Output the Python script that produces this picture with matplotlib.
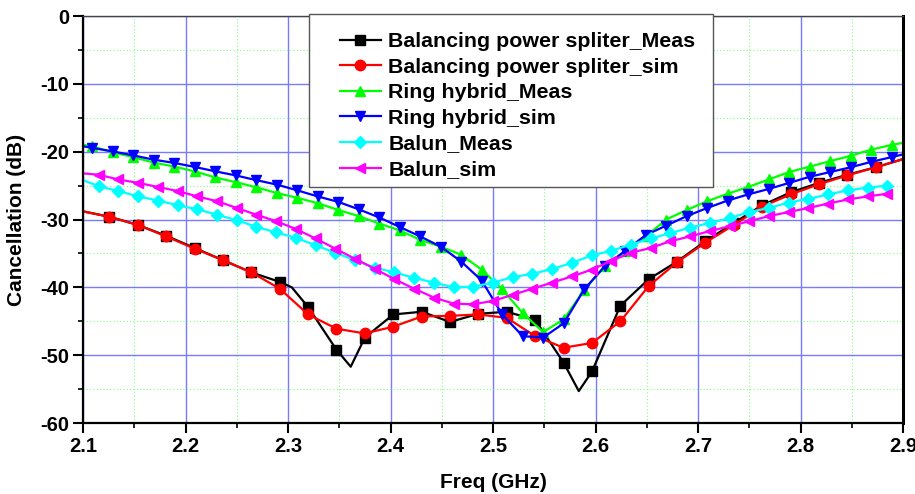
import matplotlib
matplotlib.use("Agg")
import matplotlib.pyplot as plt
from matplotlib.patches import Rectangle
from matplotlib.ticker import MultipleLocator

plt.rcParams['font.family'] = ['Liberation Sans', 'DejaVu Sans']
plt.rcParams['font.weight'] = 'bold'

# ---------------- data ----------------
# Balancing power splitter (marker frequencies, GHz)
bps_freq = [2.1258, 2.1535, 2.1812, 2.2089, 2.2366, 2.2643, 2.2920, 2.3196, 2.3473, 2.3750,
            2.4027, 2.4304, 2.4581, 2.4858, 2.5135, 2.5412, 2.5689, 2.5966, 2.6243, 2.6519,
            2.6796, 2.7073, 2.7350, 2.7627, 2.7904, 2.8181, 2.8458, 2.8735]
bps_meas = [-29.6, -30.8, -32.4, -34.2, -36.0, -37.8, -39.2, -42.9, -49.2, -47.4,
            -44.0, -43.6, -45.1, -43.9, -43.6, -44.8, -51.1, -52.4, -42.7, -38.8,
            -36.2, -33.2, -30.5, -27.9, -26.0, -24.6, -23.4, -22.3]
bps_sim = [-29.6, -30.8, -32.5, -34.3, -36.0, -37.8, -40.2, -44.0, -46.1, -46.8,
           -45.8, -44.3, -44.2, -44.0, -44.5, -47.2, -48.9, -48.2, -45.0, -39.8,
           -36.3, -33.4, -30.8, -28.1, -26.3, -24.8, -23.5, -22.3]
# extra (unmarked) measured points between markers
bps_meas_extra_freq = [2.1, 2.3037, 2.3612, 2.5837, 2.9]
bps_meas_extra_val = [-28.8, -40.0, -51.7, -55.3, -21.1]
bps_sim_end_freq = [2.1, 2.9]
bps_sim_end_val = [-28.8, -21.1]

# Ring hybrid
ring_freq = [2.109, 2.129, 2.149, 2.169, 2.189, 2.209, 2.229, 2.249, 2.269, 2.289,
             2.309, 2.329, 2.349, 2.369, 2.389, 2.409, 2.429, 2.449, 2.469, 2.489,
             2.509, 2.529, 2.549, 2.569, 2.589, 2.609, 2.629, 2.649, 2.669, 2.689,
             2.709, 2.729, 2.749, 2.769, 2.789, 2.809, 2.829, 2.849, 2.869, 2.889]
ring_meas = [-19.2, -20.1, -20.8, -21.6, -22.2, -22.9, -23.8, -24.5, -25.25, -26.1,
             -26.8, -27.6, -28.6, -29.5, -30.6, -31.6, -33.0, -34.0, -35.2, -37.4,
             -40.3, -43.8, -46.6, -44.7, -40.4, -36.9, -34.7, -32.5, -30.0, -28.6,
             -27.3, -26.2, -25.2, -24.1, -23.0, -22.2, -21.4, -20.6, -19.7, -19.0]
ring_sim = [-19.45, -19.96, -20.55, -21.18, -21.66, -22.25, -22.9, -23.5, -24.2, -24.85,
            -25.7, -26.6, -27.4, -28.5, -29.7, -31.1, -32.5, -34.0, -36.2, -39.0,
            -44.0, -47.2, -47.4, -45.3, -40.3, -36.9, -34.6, -32.3, -30.9, -29.5,
            -28.3, -27.2, -26.3, -25.5, -24.6, -23.7, -23.0, -22.3, -21.5, -20.8]
ring_end_freq = [2.1, 2.9]
ring_meas_end = [-19.0, -18.7]
ring_sim_end = [-19.2, -20.4]

# Balun
balun_freq = [2.1154, 2.1346, 2.1538, 2.1731, 2.1923, 2.2115, 2.2308, 2.2500, 2.2692, 2.2885,
              2.3077, 2.3269, 2.3462, 2.3654, 2.3846, 2.4038, 2.4231, 2.4423, 2.4615, 2.4808,
              2.5000, 2.5192, 2.5385, 2.5577, 2.5769, 2.5962, 2.6154, 2.6346, 2.6538, 2.6731,
              2.6923, 2.7115, 2.7308, 2.7500, 2.7692, 2.7885, 2.8077, 2.8269, 2.8462, 2.8654,
              2.8846]
balun_meas = [-25.1, -25.8, -26.6, -27.2, -27.9, -28.5, -29.3, -30.1, -31.1, -31.9,
              -32.7, -33.8, -34.9, -36.0, -37.1, -37.8, -38.6, -39.3, -40.0, -39.9,
              -39.3, -38.5, -38.0, -37.3, -36.4, -35.3, -34.6, -33.7, -32.8, -32.0,
              -31.2, -30.5, -29.8, -28.9, -28.3, -27.5, -26.95, -26.3, -25.7, -25.3,
              -25.0]
balun_sim = [-23.4, -24.1, -24.6, -25.2, -25.8, -26.6, -27.3, -28.3, -29.3, -30.25,
             -31.4, -32.8, -34.3, -35.8, -37.25, -38.8, -40.2, -41.5, -42.4, -42.5,
             -42.0, -41.1, -40.2, -39.3, -38.4, -37.4, -36.1, -34.9, -34.2, -33.2,
             -32.5, -31.7, -31.0, -30.25, -29.5, -28.9, -28.3, -27.65, -27.05, -26.6,
             -26.2]
balun_start_freq = [2.1]
balun_meas_start = [-24.2]
balun_sim_start = [-23.2]

labels = ["Balancing power spliter_Meas", "Balancing power spliter_sim",
          "Ring hybrid_Meas", "Ring hybrid_sim", "Balun_Meas", "Balun_sim"]
colors = ["#000000", "#ff0000", "#00ff00", "#0000ff", "#00ffff", "#ff00ff"]
markers = ["s", "o", "^", "v", "D", "<"]
msizes = [6.5, 7.5, 7.5, 7.5, 6.5, 7.5]

x_ticks = [2.1, 2.2, 2.3, 2.4, 2.5, 2.6, 2.7, 2.8, 2.9]
y_ticks = [0, -10, -20, -30, -40, -50, -60]


def merge(mf, mv, ef, ev):
    pts = [(f, v, True) for f, v in zip(mf, mv)] + [(f, v, False) for f, v in zip(ef, ev)]
    pts.sort(key=lambda p: p[0])
    xs = [p[0] for p in pts]
    ys = [p[1] for p in pts]
    idx = [i for i, p in enumerate(pts) if p[2]]
    return xs, ys, idx


series = [
    merge(bps_freq, bps_meas, bps_meas_extra_freq, bps_meas_extra_val),
    merge(bps_freq, bps_sim, bps_sim_end_freq, bps_sim_end_val),
    merge(ring_freq, ring_meas, ring_end_freq, ring_meas_end),
    merge(ring_freq, ring_sim, ring_end_freq, ring_sim_end),
    merge(balun_freq, balun_meas, balun_start_freq, balun_meas_start),
    merge(balun_freq, balun_sim, balun_start_freq, balun_sim_start),
]

# ---------------- figure ----------------
W, H = 915, 494
fig = plt.figure(figsize=(W / 100, H / 100), dpi=100)
ax = fig.add_axes([83 / W, 1 - 423 / H, (903 - 83) / W, (423 - 16) / H])

handles = []
for (xs, ys, idx), lab, c, m, ms in zip(series, labels, colors, markers, msizes):
    h, = ax.plot(xs, ys, color=c, lw=1.6, marker=m, markersize=ms, markevery=idx,
                 markerfacecolor=c, markeredgecolor=c, label=lab, clip_on=True)
    handles.append(h)

ax.set_xlim(2.1, 2.9)
ax.set_ylim(-60, 0)
ax.set_xticks(x_ticks)
ax.set_xticklabels([f"{v:.1f}" for v in x_ticks])
ax.set_yticks(y_ticks)
ax.set_yticklabels([str(v) for v in y_ticks])
ax.xaxis.set_minor_locator(MultipleLocator(0.05))
ax.yaxis.set_minor_locator(MultipleLocator(5))

ax.set_axisbelow(True)
ax.grid(which='major', color='#7a7aff', lw=1.0, ls='-')
ax.grid(which='minor', color='#7fff7f', lw=0.8, ls=(0, (1, 2)))

ax.tick_params(which='major', direction='out', length=7, width=1.5,
               labelsize=14.5, pad=3, top=False, right=False)
ax.tick_params(which='minor', direction='out', length=3.5, width=1.2,
               top=False, right=False)
for lbl in ax.get_xticklabels() + ax.get_yticklabels():
    lbl.set_fontweight('bold')

for s in ['left', 'bottom']:
    ax.spines[s].set_linewidth(1.6)
    ax.spines[s].set_color('black')
ax.spines['right'].set_linewidth(2.2)
ax.spines['right'].set_color('black')
ax.spines['top'].set_linewidth(1.0)
ax.spines['top'].set_color('#444444')

ax.set_xlabel("Freq (GHz)", fontsize=15, fontweight='bold', labelpad=12)
ax.set_ylabel("Cancellation (dB)", fontsize=15, fontweight='bold', labelpad=10)

# legend frame + legend
frame = Rectangle((309 / W, 1 - 187 / H), (713 - 309) / W, (187 - 14) / H,
                  transform=fig.transFigure, facecolor='white', edgecolor='#555555',
                  lw=1.0, zorder=5)
fig.add_artist(frame)
leg = fig.legend(handles=handles, loc='upper left',
                 bbox_to_anchor=(340 / W, 1 - 32 / H), bbox_transform=fig.transFigure,
                 frameon=False, prop={'weight': 'bold', 'size': 15.4},
                 handlelength=1.9, handletextpad=0.35, labelspacing=0.31,
                 borderpad=0, borderaxespad=0)
leg.set_zorder(6)

fig.savefig("out.png", dpi=100)
